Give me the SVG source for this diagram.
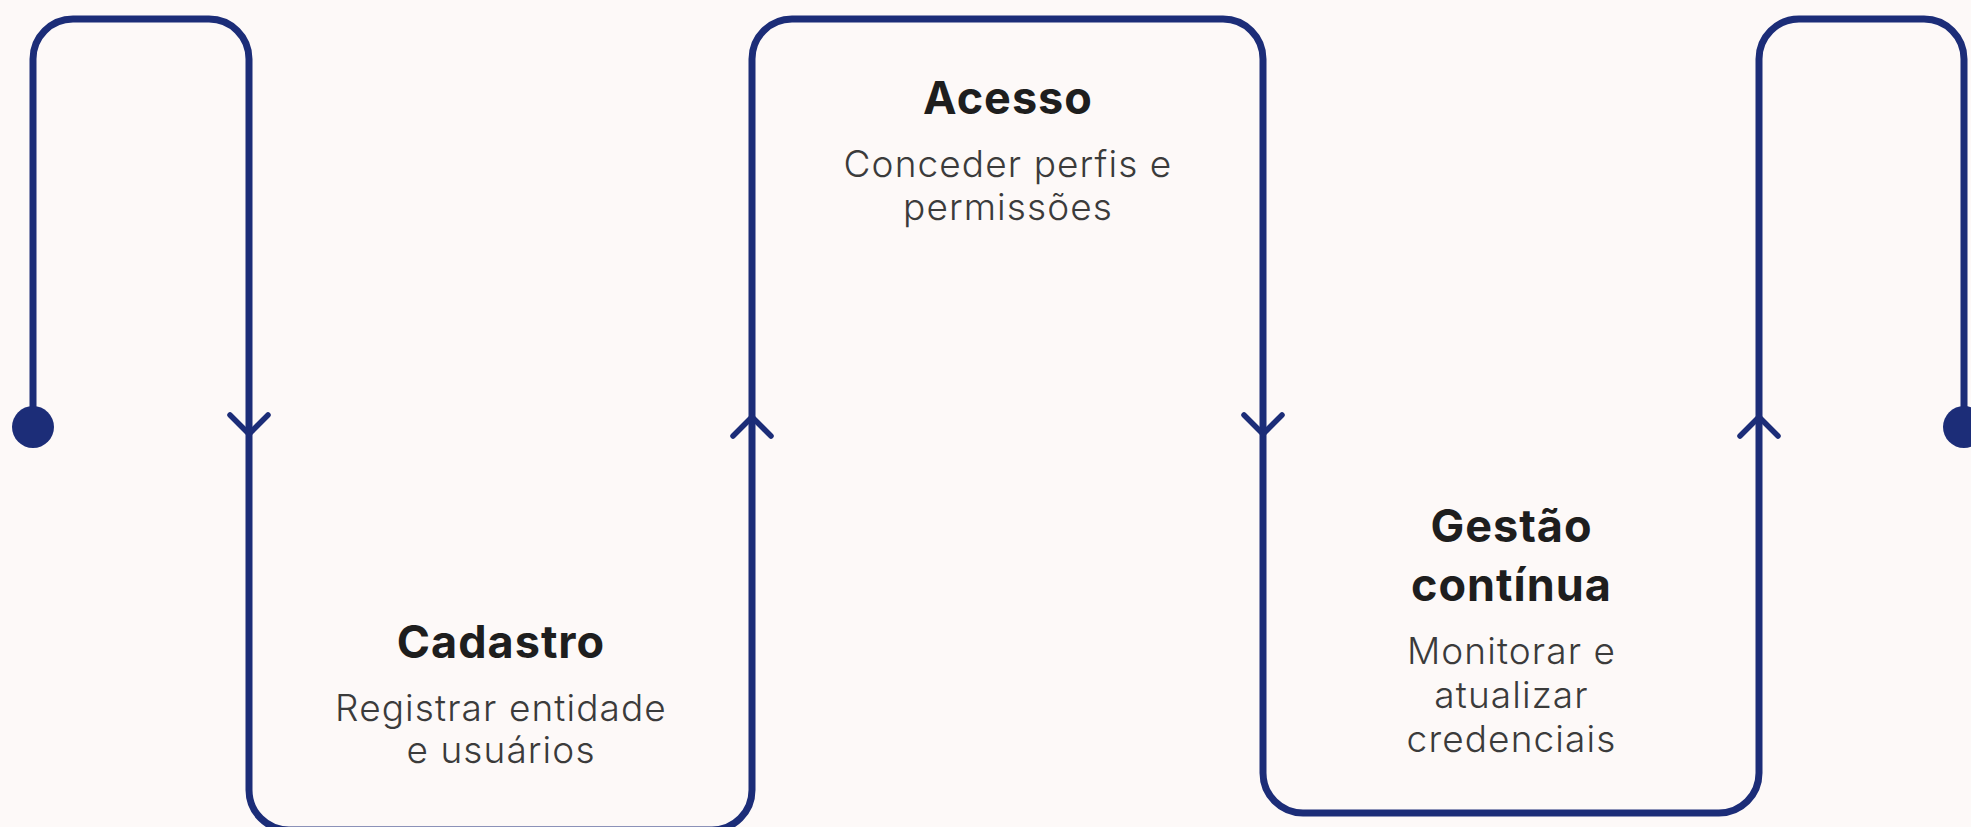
<svg xmlns="http://www.w3.org/2000/svg" width="1971" height="827" viewBox="0 0 1971 827">
  <style>
    .line { fill: none; stroke: #1c2d78; stroke-width: 7; stroke-linejoin: round; }
    .chev { fill: none; stroke: #1c2d78; stroke-width: 5.5; stroke-linecap: round; stroke-linejoin: miter; }
    .dot { fill: #1c2d78; }
    .title { font-family: Inter, "Liberation Sans", sans-serif; font-weight: 700; font-size: 45px; letter-spacing: 1px; fill: #1e1e1e; text-anchor: middle; }
    .sub { font-family: Inter, "Liberation Sans", sans-serif; font-weight: 300; font-size: 37px; letter-spacing: 1.1px; fill: #3b3b3b; text-anchor: middle; }
  </style>
  <rect x="0" y="0" width="1971" height="827" fill="#fdf9f8"/>
  <g id="connectors">
    <path class="line" d="M33,427 V59 A40,40 0 0 1 73,19 H209 A40,40 0 0 1 249,59 V790 A40,40 0 0 0 289,830 H712 A40,40 0 0 0 752,790 V59 A40,40 0 0 1 792,19 H1223 A40,40 0 0 1 1263,59 V773 A40,40 0 0 0 1303,813 H1719 A40,40 0 0 0 1759,773 V59 A40,40 0 0 1 1799,19 H1924 A40,40 0 0 1 1964,59 V427"/>
    <path class="chev" d="M230,415 L249,434 L268,415"/>
    <path class="chev" d="M733,436 L752,417 L771,436"/>
    <path class="chev" d="M1244,415 L1263,434 L1282,415"/>
    <path class="chev" d="M1740,436 L1759,417 L1778,436"/>
    <circle class="dot" cx="33" cy="427" r="21"/>
    <circle class="dot" cx="1964" cy="427" r="21"/>
  </g>
  <g id="node-cadastro">
    <text class="title" x="501" y="658">Cadastro</text>
    <text class="sub" x="501" y="721">Registrar entidade</text>
    <text class="sub" x="501" y="763">e usuários</text>
  </g>
  <g id="node-acesso">
    <text class="title" x="1008" y="114">Acesso</text>
    <text class="sub" x="1008" y="177">Conceder perfis e</text>
    <text class="sub" x="1008" y="220">permissões</text>
  </g>
  <g id="node-gestao">
    <text class="title" x="1511.5" y="542">Gestão</text>
    <text class="title" x="1511.5" y="601">contínua</text>
    <text class="sub" x="1511.5" y="664">Monitorar e</text>
    <text class="sub" x="1511.5" y="708">atualizar</text>
    <text class="sub" x="1511.5" y="752">credenciais</text>
  </g>
</svg>
